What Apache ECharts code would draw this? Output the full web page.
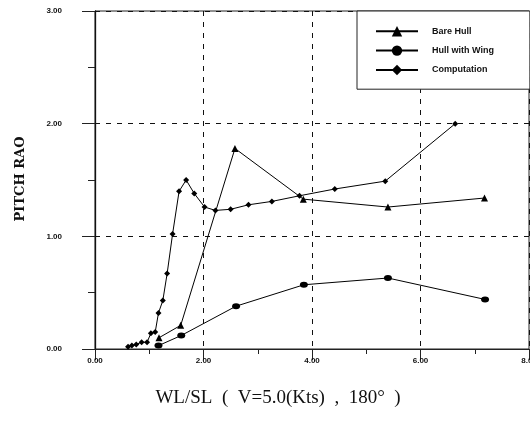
<!DOCTYPE html>
<html>
<head>
<meta charset="utf-8">
<script src="https://cdn.jsdelivr.net/npm/echarts@6/dist/echarts.min.js"></script>
<style>html,body{margin:0;padding:0;background:#fff}#c{width:530px;height:424px}</style>
</head>
<body>
<div id="c"></div>
<script>
var xTicks = [0, 2, 4, 6, 8];
var yTicks = [0, 1, 2, 3];
var seriesNames = ['Bare Hull', 'Hull with Wing', 'Computation'];
var bareX = [1.18, 1.58, 2.58, 3.84, 5.40, 7.18];
var bareY = [0.10, 0.21, 1.78, 1.33, 1.26, 1.34];
var wingX = [1.17, 1.59, 2.60, 3.85, 5.40, 7.19];
var wingY = [0.03, 0.12, 0.38, 0.57, 0.63, 0.44];
var compX = [0.61, 0.68, 0.76, 0.86, 0.96, 1.03, 1.11, 1.17, 1.25, 1.33, 1.43, 1.55, 1.68, 1.83, 2.02, 2.22, 2.50, 2.83, 3.26, 3.77, 4.42, 5.35, 6.64];
var compY = [0.02, 0.03, 0.04, 0.06, 0.06, 0.14, 0.15, 0.32, 0.43, 0.67, 1.02, 1.40, 1.50, 1.38, 1.26, 1.23, 1.24, 1.28, 1.31, 1.36, 1.42, 1.49, 2.00];
var xTitle = 'WL/SL  (  V=5.0(Kts)  ,  180°  )';
var yTitle = 'PITCH RAO';

function pairs(xs, ys) { return xs.map(function (x, i) { return [x, ys[i]]; }); }

var chart = echarts.init(document.getElementById('c'), null, {renderer: 'canvas'});
var lineStyle = {color: '#000', width: 1};
var option = {
  animation: false,
  backgroundColor: '#fff',
  grid: {left: 95, right: 1, top: 11, bottom: 75, show: true, borderColor: '#222', borderWidth: 1, outerBoundsMode: 'none', containLabel: false},
  xAxis: {
    type: 'value', min: xTicks[0], max: xTicks[xTicks.length - 1], interval: 2,
    axisLine: {lineStyle: {color: '#222', width: 1}},
    axisTick: {show: true, length: 11, lineStyle: {color: '#222'}},
    minorTick: {show: true, splitNumber: 2, length: 5, lineStyle: {color: '#222'}},
    axisLabel: {formatter: function (v) { return v.toFixed(2); }, fontSize: 8, fontWeight: 'bold', color: '#111', fontFamily: 'Liberation Sans', margin: 8},
    splitLine: {show: true, lineStyle: {color: '#111', type: [5, 6], width: 1}}
  },
  yAxis: {
    type: 'value', min: yTicks[0], max: yTicks[yTicks.length - 1], interval: 1,
    axisLine: {show: true, lineStyle: {color: '#111', width: 1.3}},
    axisTick: {show: true, length: 13, lineStyle: {color: '#222'}},
    minorTick: {show: true, splitNumber: 2, length: 7, lineStyle: {color: '#222'}},
    axisLabel: {formatter: function (v) { return v.toFixed(2); }, fontSize: 8, fontWeight: 'bold', color: '#111', fontFamily: 'Liberation Sans', margin: 33},
    splitLine: {show: true, lineStyle: {color: '#111', type: [5, 6], width: 1}}
  },
  legend: {
    orient: 'vertical', left: 357, top: 11, z: 20,
    padding: [15, 36, 14, 18],
    backgroundColor: '#ffffff',
    borderColor: '#222', borderWidth: 1,
    itemWidth: 42, itemHeight: 13, itemGap: 9,
    textStyle: {fontSize: 9, fontWeight: 'bold', color: '#111', fontFamily: 'Liberation Sans', padding: [0, 0, 0, 9]},
    data: seriesNames
  },
  series: [
    {name: seriesNames[0], type: 'line', data: pairs(bareX, bareY), symbol: 'triangle', symbolSize: 7,
     lineStyle: lineStyle, itemStyle: {color: '#000'}},
    {name: seriesNames[1], type: 'line', data: pairs(wingX, wingY), symbol: 'circle', symbolSize: [8, 6],
     lineStyle: lineStyle, itemStyle: {color: '#000'}},
    {name: seriesNames[2], type: 'line', data: pairs(compX, compY), symbol: 'diamond', symbolSize: 6,
     lineStyle: lineStyle, itemStyle: {color: '#000'}}
  ],
  graphic: [
    {type: 'rect', z: 10, shape: {x: 358, y: 12, width: 170, height: 76}, style: {fill: '#fff'}},
    {type: 'text', x: 21, y: 179, rotation: Math.PI / 2,
     style: {text: yTitle, fontSize: 13, fontWeight: 'bold', fontFamily: 'DejaVu Serif', fill: '#111', textAlign: 'center', textVerticalAlign: 'middle'}},
    {type: 'text', x: 278, y: 398,
     style: {text: xTitle, fontSize: 19, fontFamily: 'Liberation Serif', fill: '#111', textAlign: 'center', textVerticalAlign: 'middle'}}
  ]
};
chart.setOption(option);
</script>
</body>
</html>
